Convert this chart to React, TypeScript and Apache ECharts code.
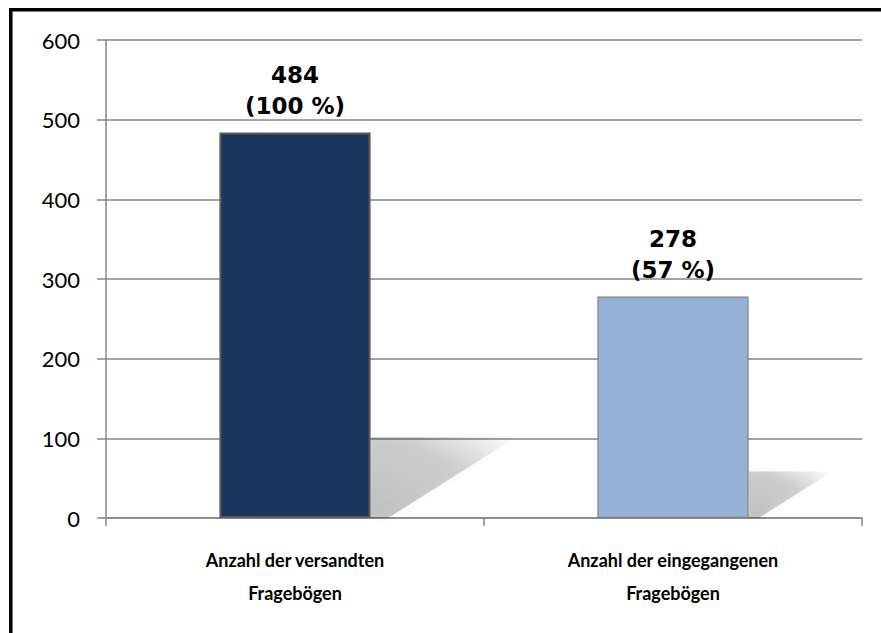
import React, { useEffect, useRef } from "react";
import * as echarts from "echarts";

const categories = ["Anzahl der versandten\nFragebögen", "Anzahl der eingegangenen\nFragebögen"];
const values = [484, 278];
const percents = [100, 57];
const barColors = ["#1a365d", "#95b3d7"];
const barBorders = ["#5a5a5a", "#808080"];
const yTicks = { min: 0, max: 600, interval: 100 };

export default function App() {
  const ref = useRef<HTMLDivElement>(null);
  useEffect(() => {
    if (!ref.current) return;
    const chart = echarts.init(ref.current, undefined, { renderer: "svg" });
    const option: any = {
      animation: false,
      backgroundColor: "#ffffff",
      grid: { left: 106, right: 19, top: 40, bottom: 115 },
      xAxis: {
        type: "category",
        data: categories,
        boundaryGap: true,
        axisLine: { lineStyle: { color: "#868686", width: 1.5 } },
        axisTick: { show: true, length: 8, lineStyle: { color: "#868686", width: 1.5 } },
        axisLabel: {
          margin: 25,
          color: "#000",
          fontFamily: "Lato, sans-serif",
          fontWeight: "bold",
          fontSize: 18,
          lineHeight: 33,
          interval: 0,
        },
      },
      yAxis: {
        type: "value",
        min: yTicks.min,
        max: yTicks.max,
        interval: yTicks.interval,
        axisLine: { show: true, lineStyle: { color: "#868686", width: 1.5 } },
        axisTick: { show: true, length: 9, lineStyle: { color: "#868686", width: 1.5 } },
        splitLine: { show: true, lineStyle: { color: "#868686", width: 1.5 } },
        axisLabel: {
          margin: 26,
          color: "#000",
          fontFamily: "Lato, sans-serif",
          fontSize: 22,
        },
      },
      series: [
        {
          type: "custom",
          z: 1,
          silent: true,
          data: values.map((v, i) => [i, v]),
          renderItem: (params: any, api: any) => {
            const idx = api.value(0);
            const v = api.value(1);
            const base = api.coord([idx, 0]);
            const band = api.size([1, 0])[0];
            const right = base[0] + band * 0.2;
            const topPt = api.coord([idx, v * 0.21]);
            const h = base[1] - topPt[1];
            const reach = h * 1.8;
            const fill = new echarts.graphic.LinearGradient(0, 1, 1, 0, [
              { offset: 0, color: "rgba(0,0,0,0.22)" },
              { offset: 0.6, color: "rgba(0,0,0,0.17)" },
              { offset: 1, color: "rgba(0,0,0,0)" },
            ]);
            return {
              type: "polygon",
              shape: {
                points: [
                  [right, base[1]],
                  [right, topPt[1]],
                  [right + reach, topPt[1]],
                  [right + reach * 0.12, base[1]],
                ],
              },
              style: { fill, shadowBlur: 10, shadowColor: "rgba(0,0,0,0.18)" },
            };
          },
        },
        {
          type: "bar",
          z: 2,
          barWidth: "40%",
          data: values.map((v, i) => ({
            value: v,
            itemStyle: {
              color: barColors[i],
              borderColor: barBorders[i],
              borderWidth: i === 0 ? 2 : 1.2,
            },
          })),
          label: {
            show: true,
            position: "top",
            distance: 11,
            color: "#000",
            fontFamily: "'DejaVu Sans', sans-serif",
            fontWeight: "bold",
            fontSize: 23,
            lineHeight: 31,
            formatter: (p: any) => `${values[p.dataIndex]}\n(${percents[p.dataIndex]} %)`,
          },
        },
      ],
      graphic: [
        {
          type: "line",
          shape: { x1: 10.8, y1: 8, x2: 10.8, y2: 633 },
          style: { stroke: "#000", lineWidth: 3.5 },
        },
        {
          type: "line",
          shape: { x1: 9, y1: 9.7, x2: 881, y2: 9.7 },
          style: { stroke: "#000", lineWidth: 3.5 },
        },
      ],
    };
    chart.setOption(option);
    return () => chart.dispose();
  }, []);
  return (
    <div style={{ position: "fixed", left: 0, top: 0, width: 881, height: 633, background: "#fff" }}>
      <div ref={ref} style={{ width: 881, height: 633 }} />
    </div>
  );
}
